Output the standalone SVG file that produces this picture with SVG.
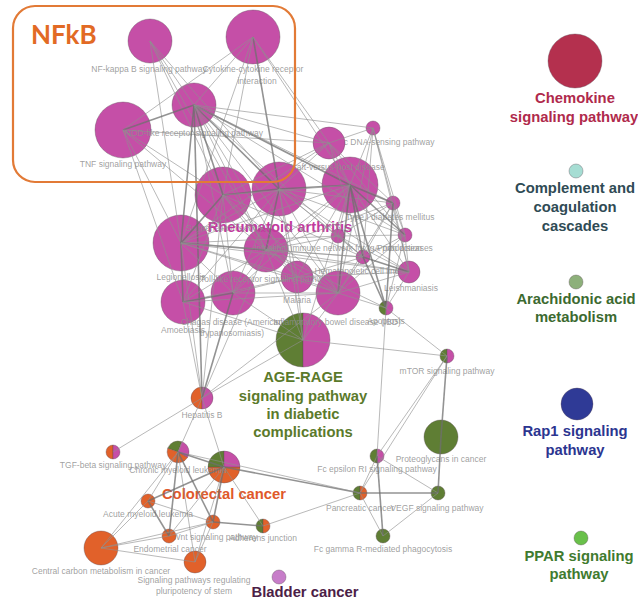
<svg xmlns="http://www.w3.org/2000/svg" width="638" height="601" viewBox="0 0 638 601">
<style>
.e{stroke:#8f8f8f;stroke-width:0.9;opacity:0.7}
.t{stroke:#6f6f6f;stroke-width:1.6;opacity:0.75}
.m{fill:#C54FA7}
.g{fill:#5F7E34}
.o{fill:#E1612A}
.nd circle,.nd path{stroke:#5a4a55;stroke-width:0.6;stroke-opacity:0.6}
.lb{font-family:"Liberation Sans",Arial,sans-serif;font-size:8.5px;fill:#8e8e8e;fill-opacity:0.85;text-anchor:middle}
.bl{font-family:"Liberation Sans",Arial,sans-serif;font-weight:bold;font-size:14.8px;text-anchor:middle}
</style>
<rect width="638" height="601" fill="#ffffff"/>
<g id="n-nfkb" class="nd"><circle class="m" cx="150" cy="41" r="22"/><text class="lb" x="149" y="72">NF-kappa B signaling pathway</text></g>
<g id="n-cytokine" class="nd"><circle class="m" cx="253" cy="37" r="27"/><text class="lb" x="253" y="72">Cytokine-cytokine receptor</text><text class="lb" x="257" y="84">interaction</text></g>
<g id="n-tnf" class="nd"><circle class="m" cx="123" cy="130" r="28"/><text class="lb" x="123" y="167">TNF signaling pathway</text></g>
<g id="n-nod" class="nd"><circle class="m" cx="194" cy="105" r="22"/><text class="lb" x="194" y="136">NOD-like receptor signaling pathway</text></g>
<g id="n-dna" class="nd"><circle class="m" cx="373" cy="128" r="7"/><text class="lb" x="374" y="145">Cytosolic DNA-sensing pathway</text></g>
<g id="n-big2" class="nd"><circle class="m" cx="350" cy="185" r="28"/></g>
<g id="n-gvhd" class="nd"><circle class="m" cx="329" cy="143" r="16"/><text class="lb" x="336" y="170">Graft-versus-host disease</text></g>
<g id="n-legion" class="nd"><circle class="m" cx="181" cy="243" r="28"/><text class="lb" x="181" y="280">Legionellosis</text></g>
<g id="n-salm" class="nd"><circle class="m" cx="223" cy="195" r="28"/><text class="lb" x="224" y="231">Salmonella infection</text></g>
<g id="n-t1d" class="nd"><circle class="m" cx="393" cy="203" r="7"/><text class="lb" x="390" y="220">Type I diabetes mellitus</text></g>
<g id="n-amoeb" class="nd"><circle class="m" cx="183" cy="302" r="22"/><text class="lb" x="183" y="333">Amoebiasis</text></g>
<g id="n-chagas" class="nd"><circle class="m" cx="233" cy="293" r="22"/><text class="lb" x="232" y="325">Chagas disease (American</text><text class="lb" x="232" y="336">trypanosomiasis)</text></g>
<g id="n-malaria" class="nd"><circle class="m" cx="297" cy="277" r="16"/><text class="lb" x="297" y="303">Malaria</text></g>
<g id="n-toll" class="nd"><circle class="m" cx="266" cy="250" r="22"/><text class="lb" x="266" y="282">Toll-like receptor signaling pathway</text></g>
<g id="n-ra" class="nd"><circle class="m" cx="279" cy="189" r="27"/><text class="bl" x="280" y="232" fill="#C23A9E">Rheumatoid arthritis</text></g>
<g id="n-ibx" class="nd"><circle class="m" cx="338" cy="236" r="7"/><text class="lb" x="338" y="251">Intestinal immune network for IgA production</text></g>
<g id="n-prion" class="nd"><circle class="m" cx="405" cy="235" r="7"/><text class="lb" x="405" y="251">Prion diseases</text></g>
<g id="n-hcl" class="nd"><circle class="m" cx="363" cy="257" r="7"/><text class="lb" x="364" y="274">Hematopoietic cell lineage</text></g>
<g id="n-leish" class="nd"><circle class="m" cx="409" cy="272" r="11"/><text class="lb" x="411" y="291">Leishmaniasis</text></g>
<g id="n-apop" class="nd"><path class="g" d="M386,301 A7,7 0 0 0 386,315 Z"/><path class="m" d="M386,301 A7,7 0 0 1 386,315 Z"/><text class="lb" x="386" y="324">Apoptosis</text></g>
<g id="n-age" class="nd"><path class="g" d="M303,313 A27,27 0 0 0 303,367 Z"/><path class="m" d="M303,313 A27,27 0 0 1 303,367 Z"/>
<text class="bl" fill="#5B7A2B" x="303" y="382">AGE-RAGE</text><text class="bl" fill="#5B7A2B" x="303" y="401">signaling pathway</text><text class="bl" fill="#5B7A2B" x="303" y="419">in diabetic</text><text class="bl" fill="#5B7A2B" x="303" y="437">complications</text></g>
<g id="n-ibd" class="nd"><circle class="m" cx="338" cy="293" r="22"/><text class="lb" x="337" y="325">Inflammatory bowel disease (IBD)</text></g>
<g id="n-hepb" class="nd"><path class="o" d="M202,387 A11,11 0 0 0 202,409 Z"/><path class="m" d="M202,387 A11,11 0 0 1 202,409 Z"/><text class="lb" x="202" y="418">Hepatitis B</text></g>
<g id="n-mtor" class="nd"><path class="g" d="M447,349 A7,7 0 0 0 447,363 Z"/><path class="m" d="M447,349 A7,7 0 0 1 447,363 Z"/><text class="lb" x="447" y="374">mTOR signaling pathway</text></g>
<g id="n-prot" class="nd"><circle class="g" cx="441" cy="437" r="17"/><text class="lb" x="441" y="462">Proteoglycans in cancer</text></g>
<g id="n-fce" class="nd"><path class="g" d="M377,449 A7,7 0 0 0 377,463 Z"/><path class="m" d="M377,449 A7,7 0 0 1 377,463 Z"/><text class="lb" x="377" y="472">Fc epsilon RI signaling pathway</text></g>
<g id="n-panc" class="nd"><path class="g" d="M360,486 A7,7 0 0 0 360,500 Z"/><path class="o" d="M360,486 A7,7 0 0 1 360,500 Z"/><text class="lb" x="360" y="511">Pancreatic cancer</text></g>
<g id="n-vegf" class="nd"><circle class="g" cx="438" cy="493" r="7"/><text class="lb" x="437" y="511">VEGF signaling pathway</text></g>
<g id="n-fcg" class="nd"><circle class="g" cx="383" cy="536" r="7"/><text class="lb" x="383" y="552">Fc gamma R-mediated phagocytosis</text></g>
<g id="n-tgf" class="nd"><path class="o" d="M113,445 A7,7 0 0 0 113,459 Z"/><path class="m" d="M113,445 A7,7 0 0 1 113,459 Z"/><text class="lb" x="113" y="468">TGF-beta signaling pathway</text></g>
<g id="n-crc" class="nd"><path class="o" d="M208,467 A16,16 0 0 0 240,467 Z"/><path class="g" d="M224,467 L208,467 A16,16 0 0 1 224,451 Z"/><path class="m" d="M224,467 L224,451 A16,16 0 0 1 240,467 Z"/><text class="bl" fill="#E0582A" x="224" y="499">Colorectal cancer</text></g>
<g id="n-cml" class="nd"><path class="g" d="M178,452 L167.7,448.2 A11,11 0 0 1 181.8,441.7 Z"/><path class="m" d="M178,452 L181.8,441.7 A11,11 0 0 1 187.5,457.5 Z"/><path class="o" d="M178,452 L187.5,457.5 A11,11 0 0 1 167.7,448.2 Z"/><text class="lb" x="178" y="473">Chronic myeloid leukemia</text></g>
<g id="n-aml" class="nd"><circle class="o" cx="148" cy="501" r="7"/><text class="lb" x="148" y="517">Acute myeloid leukemia</text></g>
<g id="n-wnt" class="nd"><circle class="o" cx="213" cy="522" r="7"/><text class="lb" x="215" y="540">Wnt signaling pathway</text></g>
<g id="n-adh" class="nd"><path class="g" d="M263,519 A7,7 0 0 0 263,533 Z"/><path class="o" d="M263,519 A7,7 0 0 1 263,533 Z"/><text class="lb" x="263" y="541">Adherens junction</text></g>
<g id="n-endo" class="nd"><circle class="o" cx="169" cy="536" r="7"/><text class="lb" x="170" y="552">Endometrial cancer</text></g>
<g id="n-ccm" class="nd"><circle class="o" cx="101" cy="548" r="17"/><text class="lb" x="101" y="574">Central carbon metabolism in cancer</text></g>
<g id="n-spr" class="nd"><circle class="o" cx="195" cy="562" r="11"/><text class="lb" x="194" y="583">Signaling pathways regulating</text><text class="lb" x="194" y="594">pluripotency of stem</text></g>
<g id="n-bladder" class="nd"><circle cx="279" cy="577" r="7" fill="#C77DC9"/><text class="bl" fill="#4B2046" x="305" y="597">Bladder cancer</text></g>
<g id="edges" fill="none">
<line class="e" x1="150" y1="41" x2="194" y2="105"/>
<line class="e" x1="150" y1="41" x2="223" y2="195"/>
<line class="e" x1="150" y1="41" x2="279" y2="189"/>
<line class="e" x1="150" y1="41" x2="181" y2="243"/>
<line class="e" x1="150" y1="41" x2="266" y2="250"/>
<line class="e" x1="253" y1="37" x2="194" y2="105"/>
<line class="e" x1="253" y1="37" x2="123" y2="130"/>
<line class="e" x1="253" y1="37" x2="223" y2="195"/>
<line class="t" x1="253" y1="37" x2="279" y2="189"/>
<line class="e" x1="253" y1="37" x2="350" y2="185"/>
<line class="e" x1="253" y1="37" x2="329" y2="143"/>
<line class="e" x1="253" y1="37" x2="181" y2="243"/>
<line class="t" x1="123" y1="130" x2="194" y2="105"/>
<line class="e" x1="123" y1="130" x2="181" y2="243"/>
<line class="e" x1="123" y1="130" x2="223" y2="195"/>
<line class="e" x1="123" y1="130" x2="329" y2="143"/>
<line class="e" x1="123" y1="130" x2="183" y2="302"/>
<line class="e" x1="123" y1="130" x2="266" y2="250"/>
<line class="t" x1="194" y1="105" x2="223" y2="195"/>
<line class="t" x1="194" y1="105" x2="279" y2="189"/>
<line class="t" x1="194" y1="105" x2="350" y2="185"/>
<line class="e" x1="194" y1="105" x2="329" y2="143"/>
<line class="e" x1="194" y1="105" x2="373" y2="128"/>
<line class="e" x1="194" y1="105" x2="393" y2="203"/>
<line class="t" x1="194" y1="105" x2="181" y2="243"/>
<line class="e" x1="194" y1="105" x2="266" y2="250"/>
<line class="e" x1="194" y1="105" x2="297" y2="277"/>
<line class="e" x1="194" y1="105" x2="338" y2="293"/>
<line class="t" x1="194" y1="105" x2="202" y2="398"/>
<line class="e" x1="194" y1="105" x2="233" y2="293"/>
<line class="e" x1="194" y1="105" x2="405" y2="235"/>
<line class="e" x1="194" y1="105" x2="363" y2="257"/>
<line class="e" x1="329" y1="143" x2="373" y2="128"/>
<line class="e" x1="329" y1="143" x2="279" y2="189"/>
<line class="e" x1="329" y1="143" x2="350" y2="185"/>
<line class="e" x1="329" y1="143" x2="393" y2="203"/>
<line class="e" x1="329" y1="143" x2="223" y2="195"/>
<line class="e" x1="329" y1="143" x2="181" y2="243"/>
<line class="e" x1="329" y1="143" x2="363" y2="257"/>
<line class="e" x1="329" y1="143" x2="405" y2="235"/>
<line class="e" x1="373" y1="128" x2="350" y2="185"/>
<line class="e" x1="373" y1="128" x2="393" y2="203"/>
<line class="e" x1="373" y1="128" x2="405" y2="235"/>
<line class="e" x1="373" y1="128" x2="363" y2="257"/>
<line class="e" x1="373" y1="128" x2="409" y2="272"/>
<line class="e" x1="373" y1="128" x2="338" y2="293"/>
<line class="t" x1="279" y1="189" x2="223" y2="195"/>
<line class="t" x1="279" y1="189" x2="350" y2="185"/>
<line class="e" x1="279" y1="189" x2="181" y2="243"/>
<line class="t" x1="279" y1="189" x2="266" y2="250"/>
<line class="e" x1="279" y1="189" x2="297" y2="277"/>
<line class="e" x1="279" y1="189" x2="338" y2="293"/>
<line class="e" x1="279" y1="189" x2="363" y2="257"/>
<line class="e" x1="279" y1="189" x2="393" y2="203"/>
<line class="e" x1="279" y1="189" x2="233" y2="293"/>
<line class="e" x1="279" y1="189" x2="183" y2="302"/>
<line class="e" x1="279" y1="189" x2="409" y2="272"/>
<line class="e" x1="279" y1="189" x2="338" y2="236"/>
<line class="e" x1="279" y1="189" x2="405" y2="235"/>
<line class="t" x1="223" y1="195" x2="181" y2="243"/>
<line class="e" x1="223" y1="195" x2="266" y2="250"/>
<line class="e" x1="223" y1="195" x2="233" y2="293"/>
<line class="e" x1="223" y1="195" x2="183" y2="302"/>
<line class="e" x1="223" y1="195" x2="350" y2="185"/>
<line class="e" x1="223" y1="195" x2="297" y2="277"/>
<line class="e" x1="223" y1="195" x2="338" y2="293"/>
<line class="e" x1="223" y1="195" x2="202" y2="398"/>
<line class="e" x1="223" y1="195" x2="363" y2="257"/>
<line class="t" x1="350" y1="185" x2="393" y2="203"/>
<line class="e" x1="350" y1="185" x2="338" y2="236"/>
<line class="t" x1="350" y1="185" x2="405" y2="235"/>
<line class="t" x1="350" y1="185" x2="363" y2="257"/>
<line class="e" x1="350" y1="185" x2="409" y2="272"/>
<line class="t" x1="350" y1="185" x2="338" y2="293"/>
<line class="e" x1="350" y1="185" x2="266" y2="250"/>
<line class="e" x1="350" y1="185" x2="297" y2="277"/>
<line class="t" x1="350" y1="185" x2="386" y2="308"/>
<line class="e" x1="350" y1="185" x2="181" y2="243"/>
<line class="e" x1="350" y1="185" x2="233" y2="293"/>
<line class="e" x1="350" y1="185" x2="303" y2="340"/>
<line class="e" x1="393" y1="203" x2="405" y2="235"/>
<line class="e" x1="393" y1="203" x2="363" y2="257"/>
<line class="e" x1="393" y1="203" x2="409" y2="272"/>
<line class="e" x1="393" y1="203" x2="338" y2="236"/>
<line class="e" x1="393" y1="203" x2="338" y2="293"/>
<line class="t" x1="393" y1="203" x2="386" y2="308"/>
<line class="e" x1="393" y1="203" x2="266" y2="250"/>
<line class="e" x1="338" y1="236" x2="363" y2="257"/>
<line class="e" x1="338" y1="236" x2="405" y2="235"/>
<line class="e" x1="338" y1="236" x2="266" y2="250"/>
<line class="e" x1="338" y1="236" x2="181" y2="243"/>
<line class="e" x1="338" y1="236" x2="338" y2="293"/>
<line class="e" x1="338" y1="236" x2="409" y2="272"/>
<line class="e" x1="405" y1="235" x2="363" y2="257"/>
<line class="e" x1="405" y1="235" x2="409" y2="272"/>
<line class="e" x1="405" y1="235" x2="386" y2="308"/>
<line class="e" x1="405" y1="235" x2="338" y2="293"/>
<line class="t" x1="181" y1="243" x2="266" y2="250"/>
<line class="t" x1="181" y1="243" x2="183" y2="302"/>
<line class="e" x1="181" y1="243" x2="233" y2="293"/>
<line class="e" x1="181" y1="243" x2="297" y2="277"/>
<line class="e" x1="181" y1="243" x2="338" y2="293"/>
<line class="e" x1="181" y1="243" x2="363" y2="257"/>
<line class="e" x1="181" y1="243" x2="202" y2="398"/>
<line class="e" x1="181" y1="243" x2="409" y2="272"/>
<line class="e" x1="266" y1="250" x2="297" y2="277"/>
<line class="e" x1="266" y1="250" x2="233" y2="293"/>
<line class="e" x1="266" y1="250" x2="338" y2="293"/>
<line class="e" x1="266" y1="250" x2="183" y2="302"/>
<line class="e" x1="266" y1="250" x2="363" y2="257"/>
<line class="e" x1="266" y1="250" x2="409" y2="272"/>
<line class="e" x1="266" y1="250" x2="386" y2="308"/>
<line class="e" x1="266" y1="250" x2="202" y2="398"/>
<line class="t" x1="363" y1="257" x2="409" y2="272"/>
<line class="e" x1="363" y1="257" x2="338" y2="293"/>
<line class="e" x1="363" y1="257" x2="297" y2="277"/>
<line class="t" x1="363" y1="257" x2="386" y2="308"/>
<line class="e" x1="409" y1="272" x2="338" y2="293"/>
<line class="e" x1="409" y1="272" x2="386" y2="308"/>
<line class="e" x1="409" y1="272" x2="297" y2="277"/>
<line class="e" x1="297" y1="277" x2="338" y2="293"/>
<line class="e" x1="297" y1="277" x2="233" y2="293"/>
<line class="e" x1="297" y1="277" x2="183" y2="302"/>
<line class="e" x1="297" y1="277" x2="303" y2="340"/>
<line class="t" x1="183" y1="302" x2="233" y2="293"/>
<line class="e" x1="183" y1="302" x2="338" y2="293"/>
<line class="e" x1="183" y1="302" x2="202" y2="398"/>
<line class="e" x1="183" y1="302" x2="303" y2="340"/>
<line class="e" x1="233" y1="293" x2="338" y2="293"/>
<line class="e" x1="233" y1="293" x2="303" y2="340"/>
<line class="t" x1="233" y1="293" x2="202" y2="398"/>
<line class="e" x1="338" y1="293" x2="303" y2="340"/>
<line class="e" x1="338" y1="293" x2="386" y2="308"/>
<line class="e" x1="338" y1="293" x2="202" y2="398"/>
<line class="e" x1="303" y1="340" x2="447" y2="356"/>
<line class="e" x1="303" y1="340" x2="202" y2="398"/>
<line class="e" x1="303" y1="340" x2="266" y2="250"/>
<line class="e" x1="303" y1="340" x2="279" y2="189"/>
<line class="e" x1="386" y1="308" x2="447" y2="356"/>
<line class="e" x1="386" y1="308" x2="377" y2="456"/>
<line class="e" x1="202" y1="398" x2="113" y2="452"/>
<line class="e" x1="202" y1="398" x2="178" y2="452"/>
<line class="e" x1="202" y1="398" x2="224" y2="467"/>
<line class="t" x1="447" y1="356" x2="441" y2="437"/>
<line class="e" x1="447" y1="356" x2="377" y2="456"/>
<line class="e" x1="447" y1="356" x2="360" y2="493"/>
<line class="t" x1="441" y1="437" x2="438" y2="493"/>
<line class="e" x1="377" y1="456" x2="360" y2="493"/>
<line class="e" x1="377" y1="456" x2="438" y2="493"/>
<line class="t" x1="377" y1="456" x2="383" y2="536"/>
<line class="t" x1="360" y1="493" x2="438" y2="493"/>
<line class="e" x1="360" y1="493" x2="383" y2="536"/>
<line class="e" x1="438" y1="493" x2="383" y2="536"/>
<line class="t" x1="224" y1="467" x2="360" y2="493"/>
<line class="e" x1="178" y1="452" x2="360" y2="493"/>
<line class="e" x1="263" y1="526" x2="360" y2="493"/>
<line class="t" x1="178" y1="452" x2="224" y2="467"/>
<line class="e" x1="178" y1="452" x2="148" y2="501"/>
<line class="t" x1="178" y1="452" x2="213" y2="522"/>
<line class="t" x1="178" y1="452" x2="169" y2="536"/>
<line class="e" x1="178" y1="452" x2="101" y2="548"/>
<line class="e" x1="178" y1="452" x2="195" y2="562"/>
<line class="t" x1="224" y1="467" x2="148" y2="501"/>
<line class="t" x1="224" y1="467" x2="213" y2="522"/>
<line class="e" x1="224" y1="467" x2="169" y2="536"/>
<line class="e" x1="224" y1="467" x2="263" y2="526"/>
<line class="e" x1="224" y1="467" x2="195" y2="562"/>
<line class="t" x1="148" y1="501" x2="169" y2="536"/>
<line class="e" x1="148" y1="501" x2="101" y2="548"/>
<line class="e" x1="148" y1="501" x2="213" y2="522"/>
<line class="e" x1="213" y1="522" x2="169" y2="536"/>
<line class="t" x1="213" y1="522" x2="263" y2="526"/>
<line class="e" x1="213" y1="522" x2="101" y2="548"/>
<line class="e" x1="213" y1="522" x2="195" y2="562"/>
<line class="e" x1="101" y1="548" x2="195" y2="562"/>
<line class="e" x1="101" y1="548" x2="169" y2="536"/>
</g>
<g id="nfkb-box"><rect x="13" y="6" width="282" height="176" rx="22" ry="22" fill="none" stroke="#E27A36" stroke-width="2.2"/><text x="31" y="44" font-family="Lato,'Open Sans',sans-serif" font-weight="bold" font-size="26" fill="#E26A24">NFkB</text></g>
<g id="legend-chemokine" class="nd"><circle cx="575" cy="61" r="27" fill="#B4304E"/><text class="bl" fill="#B02A4C" x="575" y="103">Chemokine</text><text class="bl" fill="#B02A4C" x="574" y="122">signaling pathway</text></g>
<g id="legend-complement" class="nd"><circle cx="576" cy="171" r="7" fill="#A6DDD3"/><text class="bl" fill="#2F4B55" x="575" y="193">Complement and</text><text class="bl" fill="#2F4B55" x="575" y="212">coagulation</text><text class="bl" fill="#2F4B55" x="575" y="231">cascades</text></g>
<g id="legend-arachidonic" class="nd"><circle cx="576" cy="282" r="7" fill="#8DB07A"/><text class="bl" fill="#3C6A30" x="576" y="304">Arachidonic acid</text><text class="bl" fill="#3C6A30" x="576" y="322">metabolism</text></g>
<g id="legend-rap1" class="nd"><circle cx="577" cy="404" r="16" fill="#2F3A96"/><text class="bl" fill="#2B3590" x="575" y="436">Rap1 signaling</text><text class="bl" fill="#2B3590" x="575" y="455">pathway</text></g>
<g id="legend-ppar" class="nd"><circle cx="581" cy="538" r="7" fill="#69C04A"/><text class="bl" fill="#3F7B2F" x="579" y="561">PPAR signaling</text><text class="bl" fill="#3F7B2F" x="579" y="579">pathway</text></g>
</svg>
